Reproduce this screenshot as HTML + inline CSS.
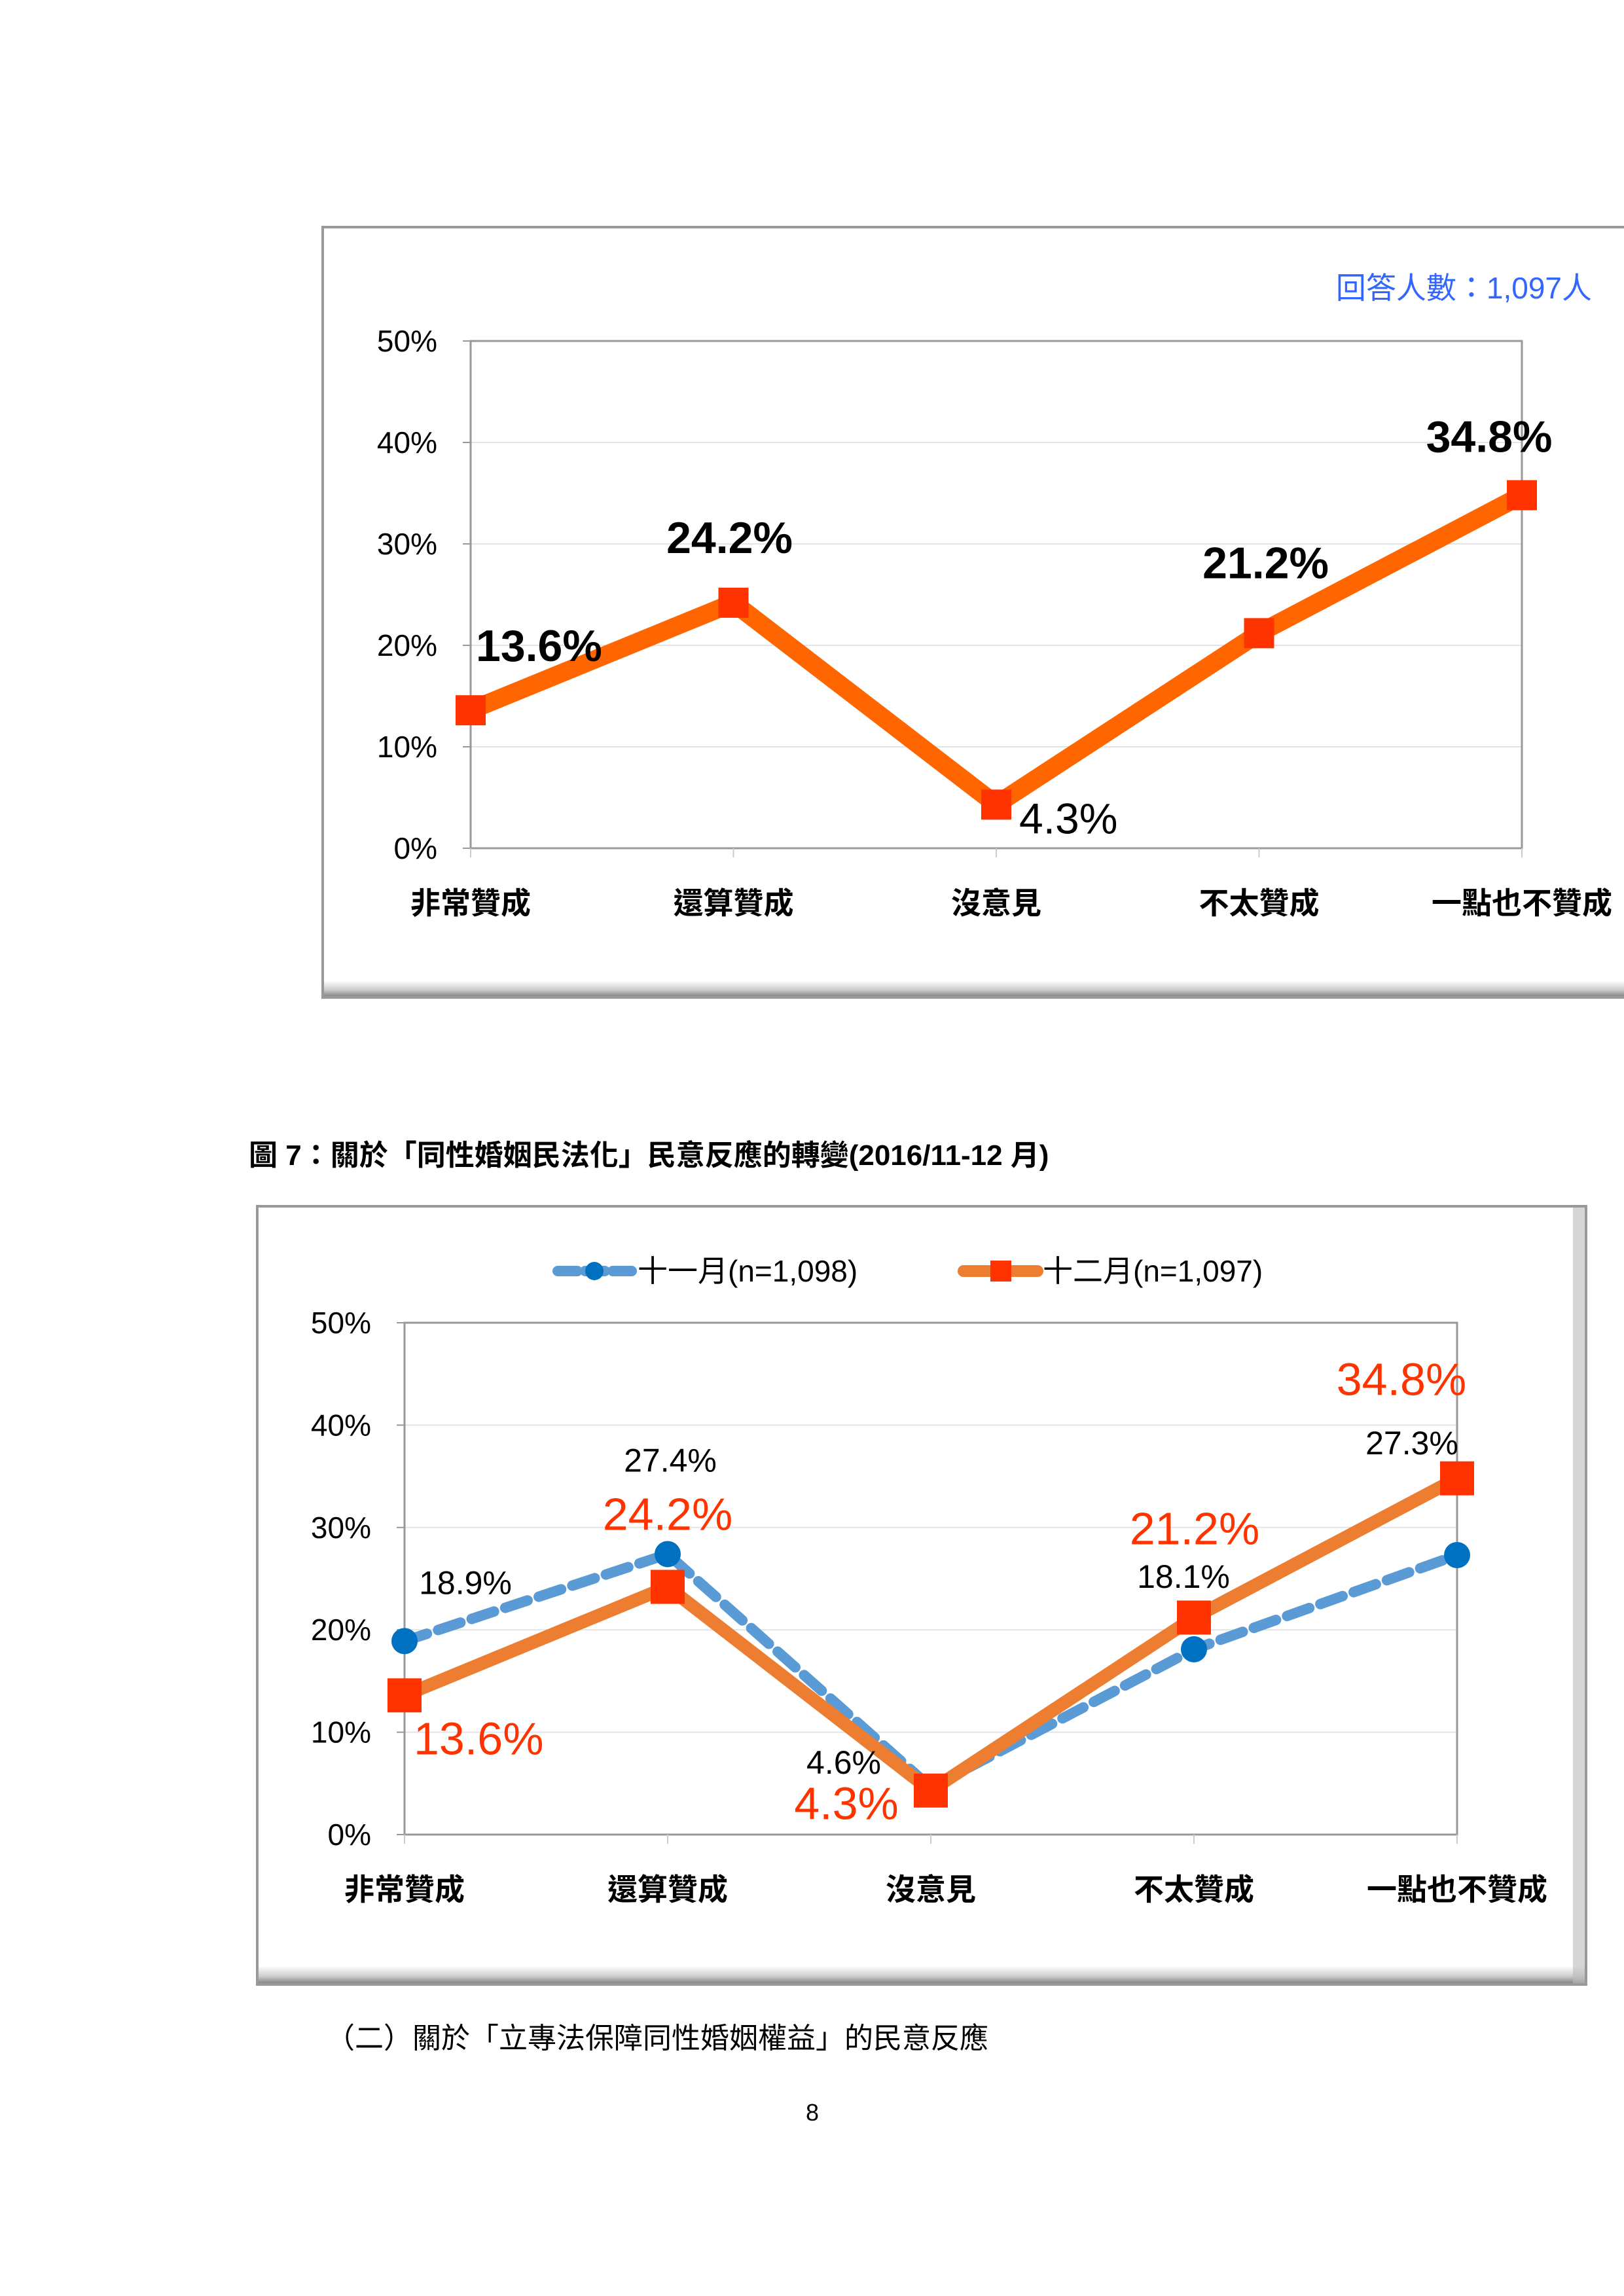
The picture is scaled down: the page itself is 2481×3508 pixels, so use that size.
<!DOCTYPE html>
<html><head><meta charset="utf-8"><style>
html,body{margin:0;padding:0;background:#fff}
body{width:2481px;height:3508px;position:relative;overflow:hidden}
svg{position:absolute;left:0;top:0}
text{font-family:"Liberation Sans","Noto Sans CJK TC",sans-serif}
</style></head><body>
<svg id="s" width="2481" height="3508" viewBox="0 0 2481 3508">
<defs>
<linearGradient id="bev" x1="0" y1="0" x2="0" y2="1"><stop offset="0" stop-color="#fff"/><stop offset="0.6" stop-color="#ccc"/><stop offset="1" stop-color="#888"/></linearGradient>
</defs>
<g>
<rect x="493" y="347" width="2000" height="1177" fill="#fff" stroke="#999" stroke-width="4"/>
<rect x="495" y="1498" width="2000" height="24" fill="url(#bev)"/>
</g>
<text x="2432" y="456" text-anchor="end" font-size="46" fill="#3366ff">回答人數：1,097人</text>
<text x="380" y="1780" font-size="44" font-weight="bold" fill="#000">圖 7：關於「同性婚姻民法化」民意反應的轉變(2016/11-12 月)</text>
<g>
<rect x="393" y="1843" width="2030" height="1189" fill="#fff" stroke="#999" stroke-width="4"/>
<rect x="395" y="3004" width="2026" height="26" fill="url(#bev)"/>
<rect x="2403" y="1845" width="18" height="1185" fill="#bbb" opacity="0.6"/>
</g>
<g>
<line x1="852" y1="1942" x2="965" y2="1942" stroke="#5b9bd5" stroke-width="16" stroke-dasharray="30,12" stroke-linecap="round"/>
<circle cx="908" cy="1942" r="14" fill="#0070c0"/>
<text x="974" y="1958" font-size="46" fill="#000">十一月(n=1,098)</text>
<line x1="1472" y1="1942" x2="1585" y2="1942" stroke="#ed7d31" stroke-width="18" stroke-linecap="round"/>
<rect x="1513" y="1926" width="32" height="32" fill="#ff3300"/>
<text x="1593" y="1958" font-size="46" fill="#000">十二月(n=1,097)</text>
</g>
<text x="498" y="3129" font-size="44" font-family="'Liberation Serif','Noto Serif CJK SC',serif" fill="#000">（二）關於「立專法保障同性婚姻權益」的民意反應</text>
<text x="1241" y="3240" text-anchor="middle" font-size="36" fill="#000">8</text>
</svg>
<script>
const categories=["非常贊成","還算贊成","沒意見","不太贊成","一點也不贊成"];
const yTicks=[0,10,20,30,40,50];
const tickLabels=["0%","10%","20%","30%","40%","50%"];
const decValues=[13.6,24.2,4.3,21.2,34.8];
const novValues=[18.9,27.4,4.6,18.1,27.3];
const decLabels=["13.6%","24.2%","4.3%","21.2%","34.8%"];
const novLabels=["18.9%","27.4%","4.6%","18.1%","27.3%"];

const NS="http://www.w3.org/2000/svg";
const svg=document.getElementById('s');
function mk(tag,attrs,parent,txt){const e=document.createElementNS(NS,tag);for(const k in attrs)e.setAttribute(k,attrs[k]);if(txt!==undefined)e.textContent=txt;(parent||svg).appendChild(e);return e;}

function axes(p,g,prefix){
  const x=i=>p.l+i*(p.r-p.l)/(categories.length-1);
  const y=v=>p.b-(v/50)*(p.b-p.t);
  yTicks.forEach((t,i)=>{
    if(t>0){const gl=mk('line',{x1:p.l,x2:p.r,y1:y(t),y2:y(t),stroke:'#e4e4e4','stroke-width':2},g);
    
    }
    const tk=mk('line',{x1:p.l-12,x2:p.l,y1:y(t),y2:y(t),stroke:'#999','stroke-width':2},g);
    
    
    const tl=mk('text',{x:p.tx,y:y(t)+16,'text-anchor':'end','font-size':46,fill:'#000'},g,tickLabels[i]);
    
    
  });
  const fr=mk('rect',{x:p.l,y:p.t,width:p.r-p.l,height:p.b-p.t,fill:'none',stroke:'#999','stroke-width':3},g);
  
  
  categories.forEach((c,i)=>{
    const tk=mk('line',{x1:x(i),x2:x(i),y1:p.b,y2:p.b+14,stroke:'#ccc','stroke-width':2},g);
    
    
    const cl=mk('text',{x:x(i),y:p.cy,'text-anchor':'middle','font-size':46,'font-weight':'bold',fill:'#000'},g,c);
    
    
  });
  return {x,y};
}

// Chart 1
const g1=mk('g',{});


const a1=axes({l:719,r:2325,t:521,b:1296,tx:668,cy:1396},g1,'chart1');
const l1=mk('polyline',{points:decValues.map((v,i)=>a1.x(i)+','+a1.y(v)).join(' '),fill:'none',stroke:'#ff6600','stroke-width':28,'stroke-linejoin':'miter'},g1);


const off1=[[8,-75,'start'],[-6,-76,'middle'],[35,44,'start'],[10,-84,'middle'],[-50,-66,'middle']];
decValues.forEach((v,i)=>{
  const m=mk('rect',{x:a1.x(i)-23,y:a1.y(v)-23,width:46,height:46,fill:'#ff3300'},g1);
  
  
  const t=mk('text',{x:a1.x(i)+off1[i][0],y:a1.y(v)+off1[i][1],'text-anchor':off1[i][2],'font-size':i===2?66:68,'font-weight':i===2?'normal':'bold',fill:'#000'},g1,decLabels[i]);
  
  
});

// Chart 2
const g2=mk('g',{});


const a2=axes({l:618,r:2226,t:2021,b:2803,tx:567,cy:2903},g2,'chart2');
const ln=mk('polyline',{points:novValues.map((v,i)=>a2.x(i)+','+a2.y(v)).join(' '),fill:'none',stroke:'#5b9bd5','stroke-width':16,'stroke-dasharray':'36,18','stroke-linecap':'round'},g2);


const ld=mk('polyline',{points:decValues.map((v,i)=>a2.x(i)+','+a2.y(v)).join(' '),fill:'none',stroke:'#ed7d31','stroke-width':20},g2);


novValues.forEach((v,i)=>{
  const c=mk('circle',{cx:a2.x(i),cy:a2.y(v),r:20,fill:'#0070c0'},g2);
  
  
});
decValues.forEach((v,i)=>{
  const m=mk('rect',{x:a2.x(i)-26,y:a2.y(v)-26,width:52,height:52,fill:'#ff3300'},g2);
  
  
});
const offNov=[[93,-72],[4,-126],[-133,-21],[-16,-94],[-69,-154]];
novValues.forEach((v,i)=>{
  const t=mk('text',{x:a2.x(i)+offNov[i][0],y:a2.y(v)+offNov[i][1],'text-anchor':'middle','font-size':50,fill:'#000'},g2,novLabels[i]);
  
  
});
const offDec=[[14,90,'start'],[0,-87,'middle'],[-129,44,'middle'],[1,-112,'middle'],[-85,-127,'middle']];
decValues.forEach((v,i)=>{
  const t=mk('text',{x:a2.x(i)+offDec[i][0],y:a2.y(v)+offDec[i][1],'text-anchor':offDec[i][2],'font-size':70,fill:'#ff3300'},g2,decLabels[i]);
  
  
});
</script>
</body></html>
